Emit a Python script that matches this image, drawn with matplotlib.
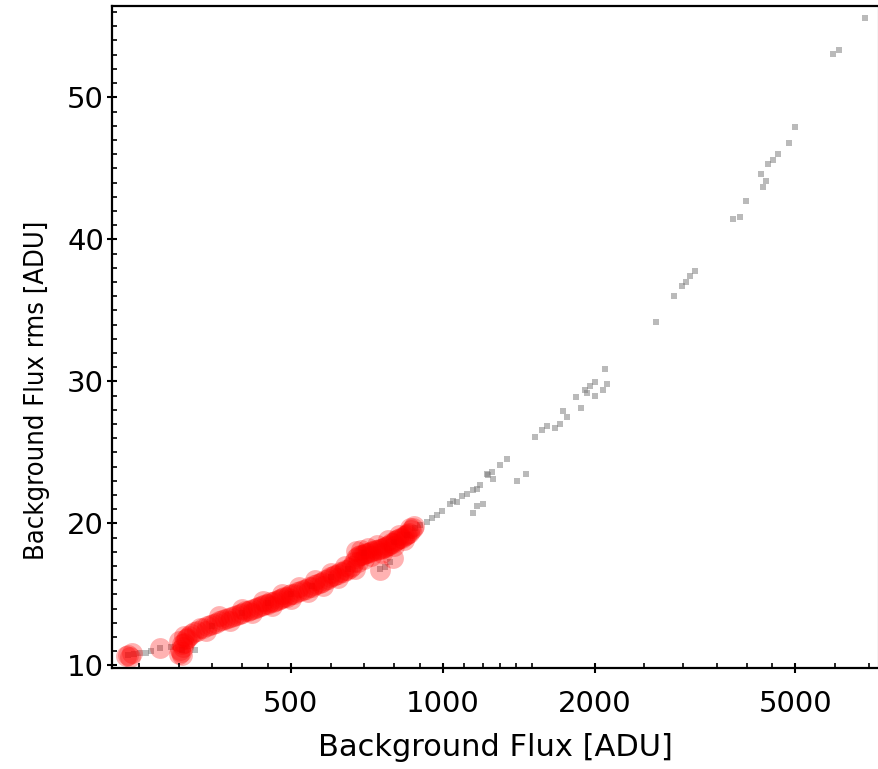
import matplotlib
matplotlib.use("Agg")
import matplotlib.pyplot as plt
import matplotlib.ticker as mticker

# grey points: all sources (flux, rms)
grey_flux = [238, 245, 252, 258, 265, 276, 290, 305, 323, 350, 400, 450, 500, 550, 600,
             650, 700, 751, 769, 785, 800, 850, 880, 900,
             930, 951, 973, 995, 1034, 1049, 1066, 1090, 1116, 1150, 1150, 1168, 1168,
             1185, 1203, 1222, 1231, 1250, 1260, 1299, 1339, 1401, 1462,
             1523, 1570, 1607, 1669, 1707, 1733, 1760, 1837, 1876, 1913, 1928, 1957,
             2003, 2003, 2080, 2094, 2118, 2646, 2871, 2974, 3033, 3088, 3159,
             3752, 3879, 3981, 4269, 4302, 4368, 4414, 4515, 4619, 4857, 5000,
             5935, 6100, 6859]
grey_rms = [10.7, 10.8, 10.9, 10.9, 11.0, 11.2, 11.3, 11.1, 11.1, 12.8, 13.7, 14.4, 15.0, 15.6, 16.2,
            16.8, 17.9, 16.8, 16.9, 17.3, 18.7, 19.2, 19.7, 19.9,
            20.1, 20.35, 20.6, 20.9, 21.4, 21.6, 21.5, 21.9, 22.1, 22.35, 20.7, 22.4, 21.2,
            22.7, 21.4, 23.5, 23.4, 23.6, 23.1, 24.1, 24.5, 23.0, 23.5,
            26.1, 26.6, 26.85, 26.7, 27.0, 27.9, 27.5, 28.9, 28.1, 29.4, 29.15, 29.7,
            29.97, 29.0, 29.4, 30.85, 29.8, 34.2, 36.0, 36.7, 37.0, 37.4, 37.8,
            41.4, 41.55, 42.7, 44.6, 43.7, 44.1, 45.3, 45.6, 46.0, 46.8, 47.9,
            53.05, 53.3, 55.6]

# red points: selected sources (flux, rms)
red_flux = [238, 242, 240, 236, 276,
            300, 303, 305, 302, 306, 304, 308, 300, 310, 312, 307, 315,
            318, 322, 326, 331, 336, 341, 346, 351, 356, 361, 366, 371, 376, 381,
            386, 391, 396, 401, 406, 411, 416, 421, 426, 431, 436, 441, 446, 451,
            456, 461, 466, 471, 476, 481, 486, 491, 496, 501, 508, 515, 522, 529,
            536, 543, 550, 557, 564, 571, 578, 585, 592, 599, 606, 613, 620, 627,
            634, 641, 648, 655, 662, 668, 674, 680, 686, 692, 698, 705, 712, 719,
            726, 733, 740, 747, 754, 761, 768, 775, 782, 789, 796, 803, 810, 817,
            824, 831, 838, 845, 852, 859, 866, 872, 878,
            340, 360, 380, 400, 420, 440, 460, 480, 500, 520, 540, 560, 580, 600,
            620, 640, 670, 675, 680, 690, 700, 710, 720, 740, 760, 780, 800, 820,
            840, 860,
            751, 798]
red_rms = [10.7, 10.85, 10.6, 10.65, 11.2,
           10.8, 10.95, 10.7, 11.1, 11.3, 11.5, 11.6, 11.7, 11.85, 11.95, 12.05, 12.1,
           12.2, 12.35, 12.45, 12.6, 12.65, 12.75, 12.85, 12.95, 13.0, 13.1, 13.2, 13.25, 13.35, 13.4,
           13.5, 13.55, 13.65, 13.7, 13.8, 13.85, 13.9, 14.0, 14.05, 14.1, 14.15, 14.25, 14.3, 14.35,
           14.45, 14.5, 14.55, 14.6, 14.7, 14.75, 14.8, 14.85, 14.95, 15.0, 15.05, 15.15, 15.25, 15.3,
           15.4, 15.5, 15.55, 15.65, 15.75, 15.8, 15.9, 16.0, 16.1, 16.2, 16.3, 16.35, 16.45, 16.55,
           16.6, 16.7, 16.75, 16.85, 17.0, 17.3, 17.55, 17.7, 17.75, 17.8, 17.85, 17.9, 17.95, 18.0,
           18.05, 18.1, 18.15, 18.2, 18.2, 18.25, 18.35, 18.4, 18.5, 18.6, 18.65, 18.75, 18.8, 18.9,
           18.95, 19.0, 19.1, 19.15, 19.25, 19.35, 19.5, 19.65, 19.8,
           12.4, 13.45, 13.1, 14.0, 13.7, 14.55, 14.2, 15.05, 14.7, 15.55, 15.15, 16.0, 15.6, 16.5,
           16.15, 17.0, 16.8, 18.05, 17.3, 18.15, 17.5, 18.25, 17.7, 18.5, 17.9, 18.8, 18.4, 19.2,
           18.8, 19.65,
           16.7, 17.55]

x_major = [500, 1000, 2000, 5000]
x_minor = [250, 300, 350, 400, 450, 600, 700, 800, 900, 1100, 1200, 1300, 1400, 1500,
           2500, 3000, 3500, 4000, 4500, 6000, 7000]
y_major = [10, 20, 30, 40, 50]

plt.rcParams['font.family'] = ['DejaVu Sans']
fig = plt.figure(figsize=(8.79, 7.69), dpi=100)
ax = fig.add_axes([0.127, 0.131, 0.8719, 0.8616])

ax.scatter(grey_flux, grey_rms, s=16, marker='s', color='#777777', alpha=0.5, linewidths=0)
ax.scatter(red_flux, red_rms, s=225, marker='o', color='red', alpha=0.3, linewidths=0)

ax.set_xscale('log')
ax.set_xlim(221, 7286)
ax.set_ylim(9.8, 56.45)

ax.xaxis.set_major_locator(mticker.FixedLocator(x_major))
ax.xaxis.set_minor_locator(mticker.FixedLocator(x_minor))
ax.xaxis.set_major_formatter(mticker.FixedFormatter([str(v) for v in x_major]))
ax.xaxis.set_minor_formatter(mticker.NullFormatter())
ax.yaxis.set_major_locator(mticker.FixedLocator(y_major))
ax.yaxis.set_minor_locator(mticker.MultipleLocator(1))

ax.tick_params(which='major', direction='inout', length=7, width=1.5, labelsize=21)
ax.tick_params(which='minor', direction='in', length=3.8, width=1.2)
ax.tick_params(axis='x', which='major', pad=12)
ax.tick_params(axis='y', which='major', pad=2)

for s in ['left', 'bottom', 'top']:
    ax.spines[s].set_linewidth(1.6)
    ax.spines[s].set_color('black')
ax.spines['right'].set_color('#cccccc')
ax.spines['right'].set_linewidth(1)

fig.text(495 / 879, 1 - 748 / 769, 'Background Flux [ADU]', ha='center', va='center', fontsize=22)
fig.text(37 / 879, 1 - 390 / 769, 'Background Flux rms [ADU]', ha='center', va='center',
         rotation=90, fontsize=19.5, fontstretch='condensed')

fig.savefig('out.png', dpi=100)
